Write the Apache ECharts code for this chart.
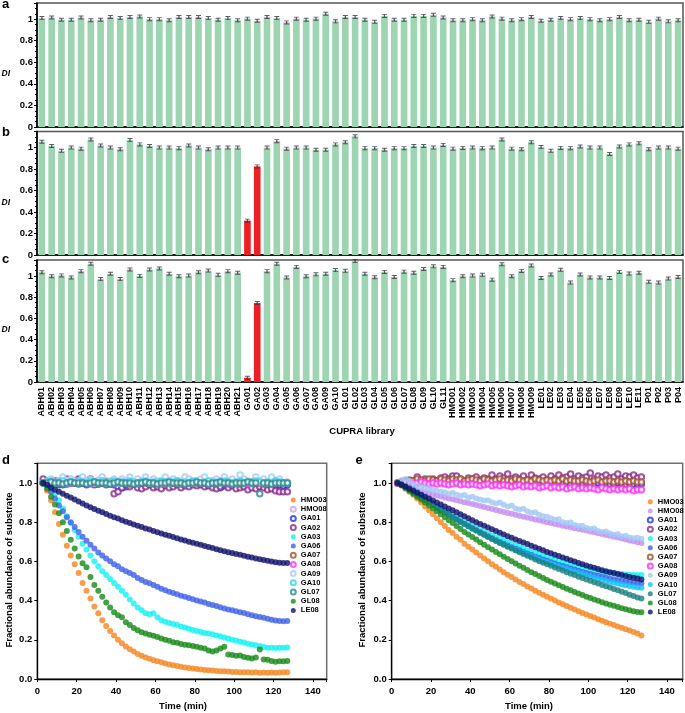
<!DOCTYPE html>
<html><head><meta charset="utf-8">
<script src="https://cdn.jsdelivr.net/npm/echarts@6/dist/echarts.min.js"></script>
<style>html,body{margin:0;padding:0;background:#fff}#c{width:685px;height:713px}</style>
</head><body><div id="c"></div>
<script>
// ---------- DATA ----------
const categories = ['ABH01','ABH02','ABH03','ABH04','ABH05','ABH06','ABH07','ABH08','ABH09','ABH10','ABH11','ABH12','ABH13','ABH14','ABH15','ABH16','ABH17','ABH18','ABH19','ABH20','ABH21',
  'GA01','GA02','GA03','GA04','GA05','GA06','GA07','GA08','GA09','GA10',
  'GL01','GL02','GL03','GL04','GL05','GL06','GL07','GL08','GL09','GL10','GL11',
  'HMO01','HMO02','HMO03','HMO04','HMO05','HMO06','HMO07','HMO08','HMO09',
  'LE01','LE02','LE03','LE04','LE05','LE06','LE07','LE08','LE09','LE10','LE11',
  'P01','P02','P03','P04'];
const diA = [1.01,1.015,0.995,0.995,1.015,0.99,0.995,1.02,1.01,1.02,1.025,1.0,1.0,0.99,1.02,1.02,1.02,1.01,0.995,1.01,0.99,
  1.005,0.985,1.02,1.01,0.97,1.005,0.995,1.005,1.05,0.98,
  1.02,1.02,0.995,0.975,1.03,0.995,0.995,1.03,1.03,1.04,1.015,
  0.99,0.99,1.0,0.99,1.025,1.005,0.99,1.0,1.02,
  0.985,0.995,1.01,1.0,1.01,1.0,0.99,1.0,1.02,0.99,0.995,
  0.975,1.005,0.98,0.99];
const diB = [1.055,1.015,0.97,1.0,0.99,1.075,1.02,1.0,0.985,1.07,1.03,1.015,1.0,1.0,0.995,1.02,1.0,0.985,1.0,1.0,1.0,
  0.32,0.825,1.0,1.06,0.99,1.0,1.0,0.98,0.98,1.03,
  1.05,1.105,0.995,0.995,0.98,0.995,0.995,1.015,1.015,1.0,1.025,
  0.99,0.997,1.0,0.995,1.0,1.075,0.99,0.985,1.05,
  1.005,0.97,0.997,0.995,1.01,1.0,1.0,0.94,1.01,1.03,1.04,
  0.985,1.0,1.0,0.99];
const diC = [1.035,0.997,1.005,0.985,1.045,1.115,0.97,1.02,0.97,1.06,1.0,1.06,1.07,1.02,0.997,1.003,1.035,1.05,1.01,1.045,1.03,
  0.04,0.745,1.045,1.115,0.985,1.085,0.997,1.015,1.02,1.055,
  1.048,1.14,1.02,0.987,1.038,0.99,1.04,1.03,1.065,1.09,1.085,
  0.96,0.997,1.003,1.01,0.965,1.11,0.997,1.047,1.098,
  0.98,1.013,1.057,0.937,1.013,0.985,0.985,0.98,1.038,1.022,1.03,
  0.944,0.937,0.975,0.99];
const inhibitedB = ['GA01','GA02'];
const inhibitedC = ['GA01','GA02'];

const timeMin = [3,5,7,9,11,13,15,17,19,21,23,25,27,29,31,33,35,37,39,41,43,45,47,49,51,53,55,57,59,61,63,65,67,69,71,73,75,77,79,81,83,85,87,89,91,93,95,97,99,101,103,105,107,109,111,113,115,117,119,121,123,125,127];
const seriesNames = ['HMO03','HMO08','GA01','GA02','GA03','GA06','GA07','GA08','GA09','GA10','GL07','GL08','LE08'];

// panel d
const dHMO03 = [1.00,0.96,0.91,0.85,0.79,0.735,0.68,0.63,0.585,0.54,0.49,0.45,0.41,0.37,0.335,0.30,0.27,0.245,0.222,0.20,0.182,0.166,0.152,0.14,0.128,0.119,0.11,0.103,0.096,0.09,0.085,0.079,0.074,0.07,0.066,0.062,0.059,0.056,0.053,0.051,0.048,0.046,0.045,0.043,0.041,0.04,0.039,0.038,0.036,0.036,0.035,0.034,0.034,0.033,0.034,0.032,0.033,0.032,0.033,0.032,0.033,0.034,0.034];
const dHMO08 = [1.00,1.01,1.00,1.005,1.01,0.995,1.005,1.01,1.00,1.00,1.005,1.01,1.00,0.995,1.005,1.00,1.01,1.00,0.995,1.005,1.00,1.00,1.01,0.995,1.00,1.005,1.00,0.995,1.01,1.00,1.00,1.005,0.995,1.00,1.01,1.00,0.995,1.005,1.00,1.00,1.005,0.995,1.00,1.01,1.00,0.995,1.00,1.005,1.00,0.995,1.00,1.005,1.00,0.995,1.00,1.005,0.995,1.00,1.00,0.995,1.00,1.00,0.995];
const dGA01 = [1.00,1.00,0.995,1.00,0.99,1.00,0.995,1.00,1.00,0.995,1.00,0.99,1.00,1.00,0.995,1.00,1.00,0.995,0.99,0.98,0.975,0.98,0.99,1.00,0.995,1.00,1.00,0.995,1.00,0.995,1.00,0.99,0.995,1.00,1.00,0.995,1.00,0.995,1.00,1.00,0.995,1.00,0.99,0.985,0.98,0.975,0.985,0.99,1.00,0.995,0.99,0.985,0.99,0.995,0.99,0.985,0.99,0.985,0.99,0.985,0.99,0.985,0.99];
const dGA02 = [1.02,1.01,1.00,1.01,1.00,0.99,1.02,1.01,1.00,1.02,1.01,1.00,1.02,0.99,1.00,1.01,0.99,1.00,0.945,0.955,0.975,0.99,0.98,0.995,0.975,0.97,0.98,0.99,0.975,0.98,0.97,0.985,0.975,0.98,0.99,0.975,0.985,0.98,0.99,0.985,0.99,0.98,0.985,0.975,0.97,0.98,0.99,0.975,0.985,0.97,0.975,0.98,0.965,0.975,0.97,0.98,0.975,0.965,0.97,0.96,0.955,0.955,0.955];
const dGA03 = [1.0,0.99,0.97,0.945,0.91,0.87,0.83,0.795,0.76,0.725,0.69,0.66,0.63,0.60,0.575,0.55,0.53,0.51,0.49,0.47,0.45,0.43,0.405,0.385,0.365,0.35,0.335,0.33,0.335,0.315,0.30,0.292,0.285,0.28,0.275,0.268,0.262,0.256,0.25,0.245,0.24,0.235,0.232,0.228,0.222,0.218,0.212,0.207,0.20,0.196,0.19,0.186,0.18,0.176,0.172,0.168,0.163,0.16,0.16,0.158,0.16,0.16,0.161];
const dGA06 = [1.0,0.985,0.955,0.92,0.885,0.855,0.825,0.80,0.775,0.75,0.725,0.705,0.685,0.665,0.645,0.63,0.615,0.60,0.585,0.575,0.56,0.55,0.54,0.53,0.515,0.505,0.495,0.488,0.48,0.47,0.46,0.452,0.445,0.438,0.432,0.425,0.42,0.413,0.407,0.40,0.395,0.39,0.383,0.377,0.372,0.366,0.36,0.355,0.35,0.345,0.34,0.336,0.33,0.325,0.32,0.316,0.312,0.307,0.302,0.298,0.296,0.295,0.296];
const dGA07 = [1.00,1.00,1.005,1.00,0.995,1.00,1.00,1.005,1.00,1.00,1.00,1.005,1.00,1.00,0.995,1.00,1.005,1.00,1.00,1.00,1.005,1.00,0.995,1.00,1.00,1.005,1.00,1.00,0.995,1.00,1.00,1.005,1.00,1.00,1.00,0.995,1.00,1.005,1.00,1.00,1.00,1.00,1.005,1.00,0.995,1.00,1.00,1.005,1.00,1.00,0.995,1.00,1.00,1.005,1.00,1.00,0.995,1.00,1.00,1.00,1.005,1.00,1.00];
const dGA08 = [1.00,1.005,1.00,1.01,1.00,1.005,0.995,1.00,1.01,1.00,1.005,1.00,0.995,1.005,1.01,1.00,1.00,1.005,0.995,1.00,1.01,1.00,1.005,1.00,0.995,1.005,1.01,1.00,1.00,1.005,0.995,1.00,1.01,1.00,1.005,1.00,0.995,1.00,1.005,1.01,1.00,1.00,0.995,1.005,1.00,1.01,1.00,0.995,1.005,1.00,1.00,1.005,0.995,1.00,1.01,1.00,1.005,1.00,0.995,1.00,1.005,1.00,1.00];
const dGA09 = [1.00,1.01,1.02,1.00,1.01,1.03,1.00,1.02,1.01,1.00,1.03,1.01,1.02,1.00,1.015,1.03,1.00,1.01,1.02,1.00,1.02,1.01,1.03,1.00,1.02,1.01,1.03,1.00,1.02,1.01,1.00,1.03,1.01,1.02,1.00,1.01,1.03,1.02,1.00,1.01,1.02,1.03,1.00,1.01,1.02,1.00,1.03,1.01,1.02,1.00,1.04,1.02,1.01,1.00,1.03,1.01,1.02,1.00,1.03,1.01,1.02,1.00,1.005];
const dGA10 = [1.00,1.005,1.01,1.00,1.005,1.01,1.00,1.005,1.00,1.01,1.005,1.00,1.01,1.005,1.00,1.01,1.00,1.005,1.01,1.00,1.005,1.00,1.01,1.005,1.00,1.005,1.01,1.00,1.005,1.00,1.01,1.005,1.00,1.005,1.01,1.00,1.005,1.00,1.01,1.005,1.00,1.005,1.01,1.00,1.005,1.00,1.01,1.005,1.00,1.005,1.01,1.00,1.005,1.00,1.01,1.005,1.00,1.005,1.00,1.01,1.005,1.00,1.00];
const dGL07 = [1.00,1.00,1.005,1.00,1.00,0.995,1.00,1.005,1.00,1.00,1.00,0.995,1.00,1.005,1.00,1.00,1.00,0.995,1.00,1.005,1.00,1.00,1.00,0.995,1.00,1.00,1.005,1.00,1.00,0.995,1.00,1.00,1.005,1.00,1.00,1.00,0.995,1.00,1.00,1.005,1.00,1.00,0.995,1.00,1.00,1.005,1.00,1.00,0.995,1.00,1.00,1.00,1.005,1.00,1.00,0.945,1.00,1.00,0.995,1.00,1.00,1.00,1.00];
const dGL08 = [1.0,0.97,0.93,0.89,0.845,0.80,0.755,0.71,0.665,0.625,0.59,0.57,0.52,0.48,0.45,0.42,0.39,0.365,0.34,0.325,0.315,0.29,0.275,0.26,0.248,0.238,0.232,0.226,0.22,0.214,0.206,0.20,0.195,0.188,0.185,0.178,0.175,0.172,0.168,0.164,0.16,0.155,0.145,0.14,0.145,0.155,0.165,0.125,0.122,0.118,0.12,0.112,0.108,0.105,0.11,0.15,0.10,0.098,0.092,0.088,0.09,0.091,0.092];
const dLE08 = [1.0,0.99,0.975,0.965,0.955,0.945,0.935,0.925,0.915,0.905,0.895,0.885,0.876,0.867,0.858,0.85,0.841,0.833,0.825,0.818,0.81,0.802,0.795,0.788,0.781,0.775,0.768,0.762,0.755,0.749,0.742,0.736,0.73,0.724,0.718,0.712,0.706,0.70,0.695,0.69,0.684,0.678,0.673,0.668,0.662,0.657,0.652,0.647,0.642,0.638,0.633,0.628,0.624,0.62,0.615,0.611,0.607,0.603,0.599,0.596,0.593,0.592,0.592];

// panel e
const eHMO03 = [1.0,0.985,0.97,0.955,0.94,0.92,0.90,0.88,0.86,0.84,0.82,0.80,0.78,0.76,0.745,0.725,0.71,0.69,0.675,0.66,0.645,0.63,0.615,0.60,0.585,0.572,0.558,0.545,0.532,0.52,0.507,0.495,0.484,0.472,0.461,0.45,0.44,0.43,0.42,0.41,0.40,0.39,0.381,0.372,0.363,0.354,0.346,0.337,0.329,0.321,0.313,0.305,0.297,0.29,0.282,0.275,0.268,0.261,0.254,0.247,0.24,0.232,0.222];
const eHMO08 = [1.0,0.99,0.982,0.975,0.968,0.962,0.956,0.951,0.946,0.941,0.936,0.931,0.926,0.921,0.917,0.912,0.907,0.902,0.897,0.892,0.887,0.882,0.877,0.872,0.867,0.862,0.857,0.852,0.847,0.843,0.838,0.833,0.828,0.823,0.819,0.814,0.809,0.805,0.80,0.796,0.791,0.787,0.782,0.778,0.774,0.769,0.765,0.761,0.757,0.752,0.748,0.743,0.739,0.734,0.73,0.725,0.721,0.716,0.711,0.706,0.702,0.698,0.694];
const eGA01 = [1.00,1.00,1.005,1.01,1.01,1.005,1.01,1.01,1.005,1.01,1.01,1.005,1.01,1.005,1.01,1.005,1.01,1.005,1.005,1.01,1.005,1.005,1.01,1.005,1.005,1.00,1.005,1.005,1.00,1.005,1.005,1.00,1.005,1.00,1.005,1.00,1.00,1.005,1.00,1.00,1.005,1.00,1.00,1.00,0.995,1.00,1.00,0.995,1.00,1.00,0.995,1.00,0.995,1.00,0.995,0.995,1.00,0.995,0.995,1.00,0.995,0.995,0.995];
const eGA02 = [null,null,null,null,null,1.03,1.01,1.02,1.015,1.02,1.01,1.025,1.03,1.02,1.035,1.035,1.02,1.01,1.025,1.02,1.03,1.015,1.025,1.02,1.04,1.02,1.035,1.025,1.045,1.02,1.03,1.02,1.035,1.015,1.04,1.025,1.02,1.03,1.015,1.035,1.02,1.04,1.025,1.03,1.045,1.02,1.035,1.025,1.03,1.05,1.02,1.035,1.03,1.04,1.025,1.03,1.045,1.02,1.035,1.03,1.04,1.025,1.03];
const eGA03 = [1.0,0.99,0.978,0.965,0.953,0.94,0.928,0.916,0.904,0.892,0.88,0.868,0.856,0.845,0.834,0.823,0.812,0.801,0.79,0.78,0.77,0.76,0.75,0.741,0.732,0.723,0.714,0.705,0.697,0.689,0.681,0.673,0.665,0.657,0.65,0.643,0.636,0.629,0.622,0.615,0.609,0.603,0.597,0.591,0.585,0.58,0.575,0.57,0.565,0.56,0.556,0.552,0.548,0.545,0.542,0.539,0.537,0.535,0.533,0.532,0.531,0.53,0.53];
const eGA06 = [1.0,0.99,0.977,0.964,0.951,0.938,0.925,0.912,0.899,0.886,0.873,0.861,0.849,0.837,0.825,0.813,0.802,0.791,0.78,0.769,0.758,0.748,0.738,0.728,0.718,0.708,0.699,0.69,0.681,0.672,0.664,0.656,0.648,0.64,0.632,0.624,0.617,0.61,0.603,0.596,0.589,0.582,0.576,0.57,0.564,0.558,0.552,0.546,0.541,0.536,0.531,0.526,0.521,0.517,0.513,0.509,0.505,0.501,0.498,0.495,0.492,0.49,0.488];
const eGA07 = [1.00,1.005,1.01,1.015,1.01,1.02,1.015,1.01,1.02,1.015,1.01,1.02,1.015,1.01,1.02,1.015,1.02,1.01,1.015,1.02,1.015,1.01,1.02,1.015,1.01,1.015,1.02,1.01,1.015,1.01,1.02,1.015,1.01,1.015,1.01,1.02,1.015,1.01,1.015,1.01,1.015,1.01,1.02,1.01,1.015,1.01,1.01,1.015,1.01,1.005,1.01,1.015,1.005,1.01,1.01,1.005,1.01,1.005,1.01,1.005,1.01,1.005,1.005];
const eGA08 = [1.00,1.00,1.005,1.00,0.995,1.00,1.005,1.00,0.995,1.00,0.995,1.00,0.995,0.99,0.995,1.00,0.99,0.995,0.99,0.995,0.99,0.985,0.99,0.995,0.985,0.99,0.985,0.99,0.985,0.98,0.985,0.99,0.98,0.985,0.98,0.985,0.975,0.98,0.985,0.975,0.98,0.975,0.98,0.97,0.975,0.98,0.97,0.975,0.97,0.975,0.97,0.965,0.975,0.97,0.965,0.97,0.965,0.97,0.965,0.97,0.96,0.965,0.965];
const eGA09 = [1.0,1.015,1.02,1.01,0.995,0.985,0.98,0.975,0.97,0.965,0.96,0.955,0.952,0.945,0.95,0.94,0.935,0.938,0.925,0.93,0.92,0.915,0.91,0.912,0.902,0.895,0.90,0.888,0.88,0.885,0.87,0.865,0.868,0.855,0.848,0.85,0.838,0.83,0.828,0.82,0.812,0.815,0.80,0.795,0.798,0.785,0.78,0.782,0.77,0.765,0.768,0.755,0.75,0.752,0.742,0.735,0.74,0.728,0.73,0.722,0.718,0.72,0.715];
const eGA10 = [1.0,0.995,0.985,0.975,0.965,0.953,0.94,0.925,0.91,0.895,0.88,0.867,0.854,0.841,0.828,0.815,0.803,0.791,0.779,0.768,0.757,0.746,0.735,0.725,0.715,0.705,0.695,0.686,0.677,0.668,0.659,0.65,0.642,0.634,0.626,0.618,0.61,0.602,0.595,0.588,0.581,0.574,0.567,0.56,0.553,0.547,0.541,0.535,0.529,0.523,0.517,0.511,0.506,0.501,0.496,0.491,0.487,0.482,0.478,0.474,0.47,0.467,0.465];
const eGL07 = [1.0,0.99,0.98,0.965,0.952,0.94,0.927,0.914,0.901,0.888,0.875,0.862,0.85,0.838,0.826,0.814,0.802,0.79,0.779,0.768,0.757,0.746,0.735,0.724,0.714,0.704,0.694,0.684,0.674,0.665,0.655,0.646,0.637,0.628,0.619,0.61,0.601,0.593,0.585,0.577,0.569,0.561,0.553,0.545,0.537,0.53,0.522,0.515,0.508,0.501,0.494,0.487,0.48,0.473,0.466,0.459,0.452,0.445,0.438,0.43,0.423,0.416,0.41];
const eGL08 = [1.0,0.99,0.975,0.96,0.945,0.93,0.915,0.90,0.885,0.87,0.855,0.84,0.825,0.81,0.795,0.78,0.765,0.75,0.737,0.724,0.711,0.698,0.685,0.672,0.66,0.648,0.636,0.624,0.612,0.60,0.589,0.578,0.567,0.556,0.545,0.535,0.525,0.515,0.505,0.496,0.487,0.478,0.469,0.46,0.452,0.444,0.436,0.428,0.42,0.413,0.406,0.399,0.392,0.385,0.379,0.373,0.367,0.361,0.356,0.35,0.346,0.342,0.34];
const eLE08 = [1.0,0.99,0.98,0.97,0.96,0.95,0.94,0.93,0.92,0.91,0.90,0.89,0.88,0.87,0.86,0.85,0.84,0.83,0.82,0.81,0.80,0.791,0.782,0.773,0.764,0.755,0.746,0.737,0.728,0.72,0.712,0.704,0.696,0.688,0.68,0.672,0.664,0.656,0.648,0.641,0.634,0.627,0.62,0.613,0.606,0.599,0.592,0.585,0.579,0.573,0.567,0.561,0.555,0.55,0.545,0.54,0.535,0.53,0.525,0.52,0.516,0.512,0.508];

// ---------- STYLE ----------
const F = '"Liberation Sans", Arial, Helvetica, sans-serif';
const GREEN = '#9dd4b1', RED = '#ee1f24';
const colD = {HMO03:'#f5861f',HMO08:'#c9a3f2',GA01:'#2233e0',GA02:'#8a2a8a',GA03:'#12f2f2',GA06:'#3d62ea',GA07:'#a0522d',GA08:'#ff30ff',GA09:'#a6cdf5',GA10:'#36d3ef',GL07:'#2a8a8a',GL08:'#178a17',LE08:'#12126e'};
const colE = {HMO03:'#f5861f',HMO08:'#c48ef2',GA01:'#2233e0',GA02:'#8a2a8a',GA03:'#12f2f2',GA06:'#3d62ea',GA07:'#a0522d',GA08:'#ff30ff',GA09:'#a2c8f5',GA10:'#12c0f8',GL07:'#1c7f80',GL08:'#178a17',LE08:'#12126e'};
const hollowD = ['HMO08','GA01','GA02','GA07','GA08','GA09','GA10','GL07'];
const hollowE = ['GA01','GA02','GA07','GA08'];
const dVals = {HMO03:dHMO03,HMO08:dHMO08,GA01:dGA01,GA02:dGA02,GA03:dGA03,GA06:dGA06,GA07:dGA07,GA08:dGA08,GA09:dGA09,GA10:dGA10,GL07:dGL07,GL08:dGL08,LE08:dLE08};
const eVals = {HMO03:eHMO03,HMO08:eHMO08,GA01:eGA01,GA02:eGA02,GA03:eGA03,GA06:eGA06,GA07:eGA07,GA08:eGA08,GA09:eGA09,GA10:eGA10,GL07:eGL07,GL08:eGL08,LE08:eLE08};

const lab = {fontFamily:F, fontWeight:'bold', color:'#000'};
const grids = [
  {left:37, right:2, top:3, height:124},
  {left:37, right:2, top:131.5, height:123.5},
  {left:37, right:2, top:260, height:122},
  {left:37.3, width:289.4, top:463.3, height:215.7},
  {left:391.7, width:291, top:463.3, height:215.7}
].map((g,i) => Object.assign(g, {show:true, borderColor: i<3 ? '#555' : '#707070', borderWidth:1.5, containLabel:false, outerBoundsMode:'none'}));

const xAxes = [], yAxes = [], series = [];
[diA, diB, diC].forEach((vals, gi) => {
  const red = gi===1 ? inhibitedB : gi===2 ? inhibitedC : [];
  xAxes.push({gridIndex:gi, type:'category', data:categories,
    axisLine:{lineStyle:{color:'#000', width:1.6}}, axisTick:{show:false},
    axisLabel:Object.assign({show: gi===2, rotate:90, interval:0, fontSize:9, margin:5}, lab)});
  yAxes.push({gridIndex:gi, type:'value', min:0, max:1.15, interval:0.2,
    axisLine:{show:true, lineStyle:{color:'#000', width:1.6}},
    axisTick:{show:true, length:3, lineStyle:{color:'#000'}},
    minorTick:{show:true, splitNumber:4, length:2, lineStyle:{color:'#000'}},
    splitLine:{show:false},
    axisLabel:Object.assign({fontSize:9.5, margin:4, formatter: v => v > 1.05 ? '' : String(+v.toFixed(1))}, lab)});
  series.push({type:'bar', xAxisIndex:gi, yAxisIndex:gi, barWidth:'68%', silent:true,
    data: categories.map((c,i) => ({value: vals[i], itemStyle:{color: red.includes(c) ? RED : GREEN}}))});
  series.push({type:'scatter', xAxisIndex:gi, yAxisIndex:gi, silent:true,
    symbol:'path://M0 0H6V1.4H3.8V4.6H6V6H0V4.6H2.2V1.4H0Z', symbolSize:[5,4],
    itemStyle:{color:'#45304a'}, data: categories.map((c,i) => [i, vals[i]])});
});

[[3,147],[4,148]].forEach(([gi,xmax]) => {
  xAxes.push({gridIndex:gi, type:'value', min:0, max:xmax, interval:20,
    axisLine:{lineStyle:{color:'#000', width:1.3}}, axisTick:{length:3, lineStyle:{color:'#000'}},
    splitLine:{show:false},
    axisLabel:Object.assign({fontSize:9.5, margin:7, formatter: v => v % 20 === 0 ? String(v) : ''}, lab)});
  yAxes.push({gridIndex:gi, type:'value', min:0, max:1.1, interval:0.2,
    axisLine:{show:true, lineStyle:{color:'#000', width:1.3}}, axisTick:{show:true, length:3, lineStyle:{color:'#000'}},
    splitLine:{show:false},
    axisLabel:Object.assign({fontSize:9.5, margin:5, formatter: v => v > 1.05 ? '' : v.toFixed(1)}, lab)});
});

function kinSeries(gi, vals, cols, hollow) {
  seriesNames.forEach(n => {
    const h = hollow.includes(n);
    series.push({type:'scatter', name:n, xAxisIndex:gi, yAxisIndex:gi, silent:true,
      symbol: h ? 'emptyCircle' : 'circle', symbolSize: h ? 5.5 : 6,
      itemStyle:{color: cols[n], borderColor: cols[n], borderWidth: h ? 0.7 : 0},
      data: timeMin.map((t,i) => vals[n][i] == null ? null : [t, vals[n][i]]).filter(p => p)});
  });
}
kinSeries(3, dVals, colD, hollowD);
kinSeries(4, eVals, colE, hollowE);

function legendFor(left, top, cols, hollow) {
  return {orient:'vertical', left, top, itemWidth:5, itemHeight:5, itemGap:0, selectedMode:false, padding:0,
    textStyle:Object.assign({fontSize:7.5, lineHeight:9.2}, lab),
    data: seriesNames.map(n => ({name:n, icon: hollow.includes(n) ? 'emptyCircle' : 'circle',
      itemStyle:{color: cols[n], borderColor: cols[n], borderWidth: hollow.includes(n) ? 0.8 : 0}}))};
}

const T = (text, x, y, size, extra) => ({type:'text', x, y, silent:true,
  style:Object.assign({text, fill:'#000', font:'bold ' + size + 'px ' + F, textAlign:'left', textVerticalAlign:'middle'}, extra||{})});

const graphic = [
  T('a', 2, 4, 13), T('b', 2, 132.5, 13), T('c', 2, 259, 13), T('d', 2, 460.5, 13), T('e', 355.5, 460, 13),
  T('DI', 1.5, 73.5, 8.5, {font:'italic bold 8.5px ' + F}),
  T('DI', 1.5, 202.5, 8.5, {font:'italic bold 8.5px ' + F}),
  T('DI', 1.5, 329.5, 8.5, {font:'italic bold 8.5px ' + F}),
  T('CUPRA library', 362, 431.5, 9.5, {textAlign:'center'}),
  Object.assign(T('Fractional abundance of substrate', 9, 570, 9.5, {textAlign:'center'}), {rotation:Math.PI/2}),
  Object.assign(T('Fractional abundance of substrate', 362, 570, 9.5, {textAlign:'center'}), {rotation:Math.PI/2}),
  T('Time (min)', 183, 706.5, 9.5, {textAlign:'center'}),
  T('Time (min)', 529, 706.5, 9.5, {textAlign:'center'})
];

const chart = echarts.init(document.getElementById('c'), null, {renderer:'canvas', width:685, height:713});
chart.setOption({
  animation:false, backgroundColor:'#fff',
  textStyle:{fontFamily:F},
  grid: grids, xAxis: xAxes, yAxis: yAxes, series,
  legend:[legendFor(289.8, 495.4, colD, hollowD), legendFor(646.8, 497.1, colE, hollowE)],
  graphic
});
</script></body></html>
